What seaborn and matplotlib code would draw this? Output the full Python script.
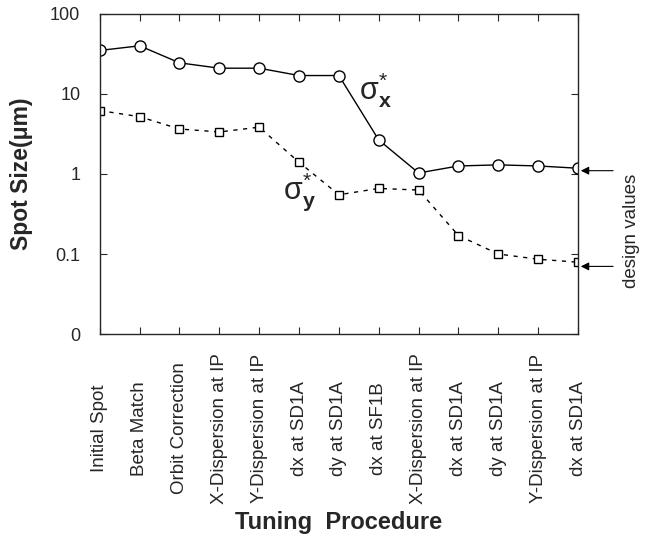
import numpy as np
import pandas as pd
import matplotlib
matplotlib.use("Agg")
import matplotlib.pyplot as plt
import seaborn as sns

steps = ["Initial Spot", "Beta Match", "Orbit Correction", "X-Dispersion at IP",
         "Y-Dispersion at IP", "dx at SD1A", "dy at SD1A", "dx at SF1B",
         "X-Dispersion at IP", "dx at SD1A", "dy at SD1A", "Y-Dispersion at IP",
         "dx at SD1A"]
sigma_x = [35, 40, 24.5, 21, 21, 17, 17, 2.66, 1.03, 1.26, 1.3, 1.26, 1.18]
sigma_y = [6.2, 5.2, 3.65, 3.35, 3.85, 1.4, 0.55, 0.66, 0.63, 0.17, 0.10, 0.086, 0.079]
design_x = 1.1
design_y = 0.07
y_ticks = [0.01, 0.1, 1, 10, 100]
y_tick_labels = ["0", "0.1", "1", "10", "100"]

df = pd.DataFrame({"step": np.arange(len(steps)), "sx": sigma_x, "sy": sigma_y})

sns.set_style("ticks")
plt.rcParams['font.family'] = ['Liberation Sans', 'DejaVu Sans']
plt.rcParams['mathtext.fontset'] = 'custom'
plt.rcParams['mathtext.rm'] = 'Liberation Sans'
plt.rcParams['mathtext.bf'] = 'Liberation Sans:bold'

fig = plt.figure(figsize=(6.48, 5.37), dpi=100)
ax = fig.add_axes([0.154, 0.378, 0.738, 0.596])

# sigma_x: solid line, open circles
sns.lineplot(data=df, x="step", y="sx", ax=ax, color="black", lw=1.0,
             marker="o", markersize=8, markerfacecolor="white",
             markeredgecolor="black", markeredgewidth=1.0)
# sigma_y: dashed line, open squares
sns.lineplot(data=df, x="step", y="sy", ax=ax, color="black", lw=1.0,
             linestyle=(0, (3, 4)), marker="s", markersize=6,
             markerfacecolor="white", markeredgecolor="black", markeredgewidth=1.0)

ax.set_yscale("log")
ax.set_ylim(0.01, 100)
ax.set_xlim(0, len(steps) - 1)
ax.set_yticks(y_ticks)
ax.set_yticklabels(y_tick_labels, fontsize=13)
ax.yaxis.set_minor_locator(matplotlib.ticker.NullLocator())
ax.set_xticks(df["step"])
ax.set_xticklabels(steps, rotation=90, fontsize=13.5, va="center", ha="center")
ax.tick_params(axis="x", direction="in", top=True, length=5, pad=68)
ax.tick_params(axis="y", direction="in", right=True, length=5, pad=14)
for s in ax.spines.values():
    s.set_linewidth(1.0)

ax.set_xlabel("Tuning  Procedure", fontsize=17, fontweight="bold", labelpad=5)
ax.set_ylabel("Spot Size(μm)", fontsize=16.5, fontweight="bold", labelpad=12)

ax.text(6.5, 20, r"$\mathrm{\sigma}^{*}_{\mathbf{x}}$", fontsize=22, ha="left", va="top")
ax.text(4.6, 0.6, r"$\mathrm{\sigma}^{*}_{\mathbf{y}}$", fontsize=22, ha="left", va="center")

# design value arrows on the right
for v in [design_x, design_y]:
    ax.annotate("", xy=(len(steps) - 1, v), xytext=(len(steps) - 1 + 0.95, v),
                xycoords="data", textcoords="data", annotation_clip=False,
                arrowprops=dict(arrowstyle="-|>", color="black", lw=0.8,
                                mutation_scale=12))
fig.text(0.975, 0.57, "design values", rotation=90, fontsize=13.5,
         ha="center", va="center")

fig.savefig("out.png", dpi=100)
